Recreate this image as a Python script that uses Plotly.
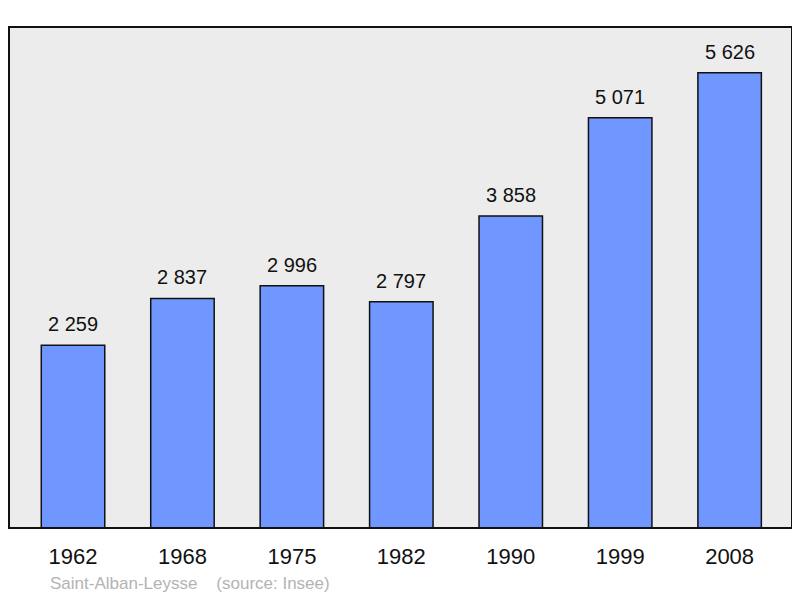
import plotly.graph_objects as go

years = ["1962", "1968", "1975", "1982", "1990", "1999", "2008"]
population = [2259, 2837, 2996, 2797, 3858, 5071, 5626]
labels = ["2 259", "2 837", "2 996", "2 797", "3 858", "5 071", "5 626"]

FONT = "Liberation Sans, Arial, sans-serif"

fig = go.Figure()
fig.add_trace(go.Bar(
    x=list(range(len(years))), y=population,
    width=0.58,
    marker=dict(color="#6f97ff", line=dict(color="#111111", width=1.5)),
    hoverinfo="skip",
))
for i, (v, t) in enumerate(zip(population, labels)):
    fig.add_annotation(x=i, y=v, text=t, showarrow=False, yanchor="bottom",
                       yshift=8, font=dict(size=20, color="#111111", family=FONT))

fig.add_annotation(xref="paper", yref="paper", x=0.05, y=-0.11, xanchor="left",
                   yanchor="middle", showarrow=False,
                   text="Saint-Alban-Leysse &nbsp;&nbsp;&nbsp;(source: Insee)",
                   font=dict(size=17, color="#b3b3b3", family=FONT))

fig.add_shape(type="rect", xref="paper", yref="paper", x0=0, x1=1, y0=0, y1=1,
              line=dict(color="#111111", width=2), layer="above")

fig.update_layout(
    width=784, height=590,
    margin=dict(l=1, r=0, t=19, b=70, autoexpand=False),
    paper_bgcolor="white", plot_bgcolor="#ececec",
    showlegend=False,
    font=dict(family=FONT, color="#111111"),
    xaxis=dict(range=[-0.585, 6.57], tickmode="array", tickvals=list(range(len(years))),
               ticktext=years, showgrid=False, zeroline=False, showline=False,
               ticks="", tickfont=dict(size=22), ticklabelstandoff=13),
    yaxis=dict(range=[0, 6193], showgrid=False, zeroline=False, showticklabels=False,
               showline=False, ticks=""),
)
fig.write_html("out.html")
